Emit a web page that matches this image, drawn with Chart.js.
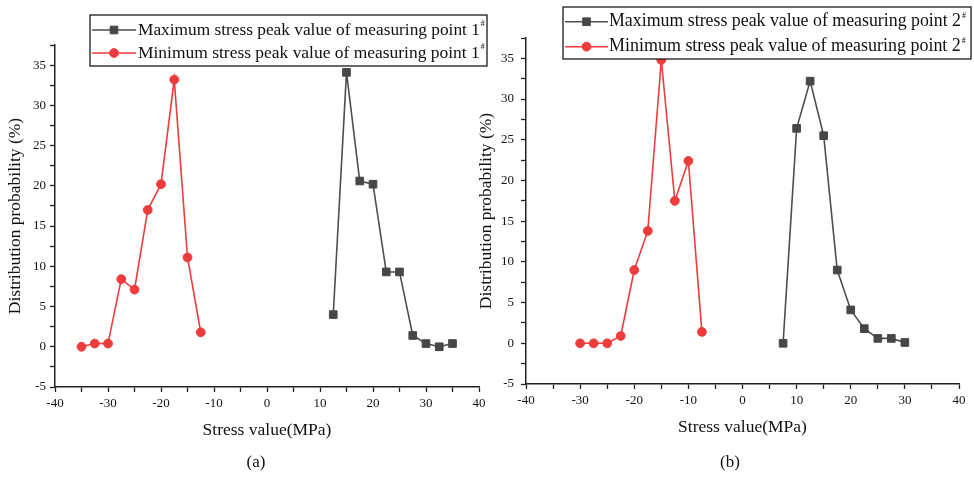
<!DOCTYPE html>
<html>
<head>
<meta charset="utf-8">
<title>Stress peak value distribution</title>
<script src="https://cdn.jsdelivr.net/npm/chart.js@4.4.1/dist/chart.umd.min.js"></script>
<style>
  html, body { margin: 0; padding: 0; background: #fff; }
  #wrap { position: relative; width: 974px; height: 479px; overflow: hidden; }
  canvas { position: absolute; top: 0; }
  #chartA { left: 0; }
  #chartB { left: 474px; }
</style>
</head>
<body>
<div id="wrap">
  <canvas id="chartA" width="490" height="479"></canvas>
  <canvas id="chartB" width="500" height="479"></canvas>
</div>
<script>
// --- data -----------------------------------------------------------------
// (a) measuring point 1#
const stressA_max = [12.5, 15, 17.5, 20, 22.5, 25, 27.5, 30, 32.5, 35];
const probA_max   = [4.0, 34.1, 20.6, 20.2, 9.3, 9.3, 1.4, 0.4, 0.0, 0.4];
const stressA_min = [-35, -32.5, -30, -27.5, -25, -22.5, -20, -17.5, -15, -12.5];
const probA_min   = [0.0, 0.4, 0.4, 8.4, 7.1, 17.0, 20.2, 33.2, 11.1, 1.8];

// (b) measuring point 2#
const stressB_max = [7.5, 10, 12.5, 15, 17.5, 20, 22.5, 25, 27.5, 30];
const probB_max   = [0.0, 26.4, 32.2, 25.5, 9.0, 4.1, 1.8, 0.6, 0.6, 0.1];
const stressB_min = [-30, -27.5, -25, -22.5, -20, -17.5, -15, -12.5, -10, -7.5];
const probB_min   = [0.0, 0.0, 0.0, 0.9, 9.0, 13.8, 34.8, 17.5, 22.4, 1.4];

// axis ranges / tick steps
const xRange = [-40, 40];
const xStep = 5, xLabelStep = 10;
const yRange = [-5, 37.5];
const yStep = 2.5, yLabelStep = 5;

const xTitle = 'Stress value(MPa)';
const yTitle = 'Distribution probability (%)';

// --- styles ------------------------------------------------------------------
const SERIF = '"Liberation Serif", "Times New Roman", serif';
const GREY = '#4e4e4e';
const RED = '#ee3b3b';

function toPoints(xs, ys) {
  return xs.map(function (x, i) { return { x: x, y: ys[i] }; });
}

function seriesMax(label, xs, ys) {
  return {
    label: label, data: toPoints(xs, ys), showLine: true,
    borderColor: GREY, borderWidth: 1.6,
    pointStyle: 'rect', pointRadius: 5.4,
    pointBackgroundColor: '#474747', pointBorderColor: '#474747', pointBorderWidth: 1
  };
}
function seriesMin(label, xs, ys) {
  return {
    label: label, data: toPoints(xs, ys), showLine: true,
    borderColor: RED, borderWidth: 1.6,
    pointStyle: 'circle', pointRadius: 4.4,
    pointBackgroundColor: RED, pointBorderColor: RED, pointBorderWidth: 1
  };
}

// legend box + caption drawn on top of the chart
const boxLegend = {
  id: 'boxLegend',
  afterDraw: function (chart, args, o) {
    const ctx = chart.ctx;
    ctx.save();
    ctx.strokeStyle = '#1a1a1a';
    ctx.lineWidth = 1.3;
    ctx.fillStyle = '#fff';
    ctx.fillRect(o.x, o.y, o.w, o.h);
    ctx.strokeRect(o.x, o.y, o.w, o.h);

    chart.data.datasets.forEach(function (ds, i) {
      const y = o.rowY[i];
      ctx.strokeStyle = ds.borderColor;
      ctx.lineWidth = ds.borderWidth;
      ctx.beginPath();
      ctx.moveTo(o.lineX0, y);
      ctx.lineTo(o.lineX1, y);
      ctx.stroke();
      ctx.fillStyle = ds.pointBackgroundColor;
      ctx.strokeStyle = ds.pointBorderColor;
      ctx.lineWidth = 1;
      Chart.helpers.drawPoint(ctx, { pointStyle: ds.pointStyle, radius: ds.pointRadius, borderWidth: 1 },
        (o.lineX0 + o.lineX1) / 2, y);

      // fit the text into the measured width
      ctx.font = '16px ' + SERIF;
      const w16 = ctx.measureText(ds.label).width;
      const size = 16 * o.textW / w16;
      ctx.font = size.toFixed(2) + 'px ' + SERIF;
      ctx.fillStyle = '#111';
      ctx.textBaseline = 'middle';
      ctx.textAlign = 'left';
      ctx.fillText(ds.label, o.textX, y);
      const tw = ctx.measureText(ds.label).width;
      ctx.font = '8px ' + SERIF;
      ctx.fillText(o.sup, o.textX + tw + 1, y - 6);
    });

    ctx.font = '17px ' + SERIF;
    ctx.fillStyle = '#111';
    ctx.textAlign = 'center';
    ctx.textBaseline = 'middle';
    ctx.fillText(o.caption, o.capX, o.capY);
    ctx.restore();
  }
};

function makeOptions(cfg) {
  return {
    responsive: false,
    animation: false,
    layout: { padding: cfg.padding },
    plugins: {
      legend: { display: false },
      tooltip: { enabled: false },
      boxLegend: cfg.legend
    },
    scales: {
      x: {
        type: 'linear', min: xRange[0], max: xRange[1],
        afterFit: function (s) { s.height = cfg.xHeight; s.paddingLeft = 0; s.paddingRight = 0; },
        border: { color: '#222', width: 1.5 },
        grid: { drawOnChartArea: false, color: '#222', tickLength: 5, tickWidth: 1.3 },
        ticks: {
          stepSize: xStep, padding: 4, color: '#111', maxRotation: 0, autoSkip: false,
          font: { family: SERIF, size: 13 },
          callback: function (v) { return v % xLabelStep === 0 ? String(v) : ''; }
        },
        title: {
          display: true, text: xTitle, color: '#111',
          font: { family: SERIF, size: 17.5 }, padding: { top: 0, bottom: cfg.xTitlePad }
        }
      },
      y: {
        type: 'linear', min: yRange[0], max: yRange[1],
        afterFit: function (s) { s.width = cfg.yWidth; s.paddingTop = 0; s.paddingBottom = 0; },
        border: { color: '#222', width: 1.5 },
        grid: { drawOnChartArea: false, color: '#222', tickLength: 5, tickWidth: 1.3 },
        ticks: {
          stepSize: yStep, padding: cfg.yTickPad, color: '#111', autoSkip: false,
          font: { family: SERIF, size: 13 },
          callback: function (v) { return v % yLabelStep === 0 ? String(v) : ''; }
        },
        title: {
          display: true, text: yTitle, color: '#111',
          font: { family: SERIF, size: 17.5 }, padding: { top: cfg.yTitlePad, bottom: 0 }
        }
      }
    }
  };
}

new Chart(document.getElementById('chartA'), {
  type: 'scatter',
  data: {
    datasets: [
      seriesMax('Maximum stress peak value of measuring point 1', stressA_max, probA_max),
      seriesMin('Minimum stress peak value of measuring point 1', stressA_min, probA_min)
    ]
  },
  options: makeOptions({
    padding: { left: 0, right: 11, top: 45, bottom: 30 },
    yWidth: 55, xHeight: 62, xTitlePad: 8, yTitlePad: 4.5, yTickPad: 4,
    legend: {
      x: 90, y: 15, w: 397, h: 51, rowY: [30, 53],
      lineX0: 92, lineX1: 136, textX: 138, textW: 342, sup: '#',
      caption: '(a)', capX: 256, capY: 463
    }
  }),
  plugins: [boxLegend]
});

new Chart(document.getElementById('chartB'), {
  type: 'scatter',
  data: {
    datasets: [
      seriesMax('Maximum stress peak value of measuring point 2', stressB_max, probB_max),
      seriesMin('Minimum stress peak value of measuring point 2', stressB_min, probB_min)
    ]
  },
  options: makeOptions({
    padding: { left: 0, right: 15, top: 38, bottom: 30 },
    yWidth: 52, xHeight: 65, xTitlePad: 11, yTitlePad: 1.5, yTickPad: 7,
    legend: {
      x: 89, y: 7, w: 408, h: 52, rowY: [21.7, 46.7],
      lineX0: 91, lineX1: 134, textX: 135, textW: 352, sup: '#',
      caption: '(b)', capX: 256, capY: 463
    }
  }),
  plugins: [boxLegend]
});
</script>
</body>
</html>
